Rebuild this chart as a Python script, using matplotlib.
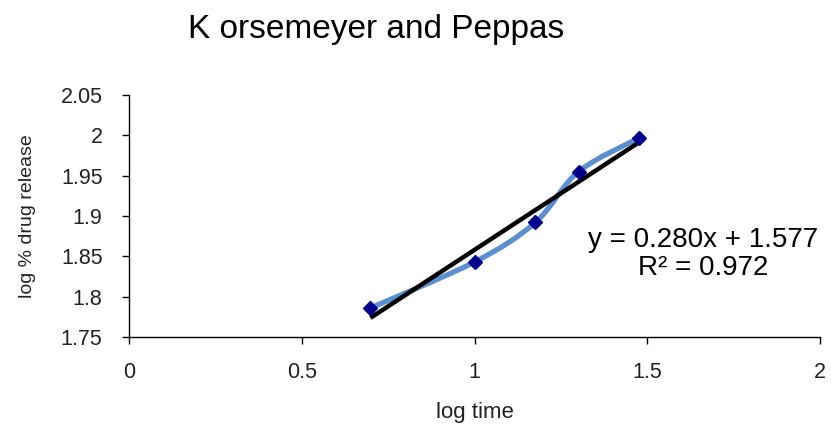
import numpy as np
import matplotlib
matplotlib.use("Agg")
import matplotlib.pyplot as plt
from matplotlib.path import Path
from matplotlib.patches import PathPatch

log_time = [0.699, 1.0, 1.176, 1.301, 1.477]
log_release = [1.786, 1.843, 1.892, 1.955, 1.997]
x_ticks = [0, 0.5, 1, 1.5, 2]
y_ticks = [1.75, 1.8, 1.85, 1.9, 1.95, 2.0, 2.05]
y_ticklabels = ["1.75", "1.8", "1.85", "1.9", "1.95", "2", "2.05"]
x_ticklabels = ["0", "0.5", "1", "1.5", "2"]

plt.rcParams['font.family'] = ['Liberation Sans', 'DejaVu Sans']

fig = plt.figure(figsize=(8.31, 4.26), dpi=100)
ax = fig.add_axes([0.1552, 0.2089, 0.8316, 0.5681])

# smoothed line (Bezier through points, Excel-style)
pts = np.column_stack([log_time, log_release])
n = len(pts)
verts = [tuple(pts[0])]
codes = [Path.MOVETO]
for i in range(n - 1):
    p0 = pts[i - 1] if i > 0 else pts[i]
    p1 = pts[i]
    p2 = pts[i + 1]
    p3 = pts[i + 2] if i + 2 < n else pts[i + 1]
    c1 = p1 + (p2 - p0) / 6.0
    c2 = p2 - (p3 - p1) / 6.0
    verts += [tuple(c1), tuple(c2), tuple(p2)]
    codes += [Path.CURVE4] * 3
ax.add_patch(PathPatch(Path(verts, codes), facecolor='none',
                       edgecolor='#5b8fd0', lw=3.8, zorder=2))

# trendline
slope, intercept = np.polyfit(log_time, log_release, 1)
tx = np.array([min(log_time), max(log_time)])
ax.plot(tx, slope * tx + intercept, color='black', lw=3.2,
        solid_capstyle='butt', zorder=3)

ax.plot(log_time, log_release, linestyle='none', marker='D', markersize=7.5,
        color='#00008b', zorder=4)

ax.set_xlim(0, 2)
ax.set_ylim(1.75, 2.05)
ax.set_xticks(x_ticks)
ax.set_xticklabels(x_ticklabels)
ax.set_yticks(y_ticks)
ax.set_yticklabels(y_ticklabels)
for s in ['top', 'right']:
    ax.spines[s].set_visible(False)
for s in ['left', 'bottom']:
    ax.spines[s].set_linewidth(1.0)
ax.tick_params(axis='both', direction='out', length=5, width=1,
               labelsize=15.5, colors='black', labelcolor='#222222')
ax.tick_params(axis='x', pad=13)
ax.tick_params(axis='y', pad=14)

ax.set_xlabel('log time', fontsize=16, color='#222222', labelpad=14)
ax.set_ylabel('log % drug release', fontsize=14, color='#222222', labelpad=18)

fig.text(0.4525, 0.93, 'K orsemeyer and Peppas', fontsize=24,
         ha='center', va='center')
fig.text(0.846, 0.437, 'y = 0.280x + 1.577', fontsize=20,
         ha='center', va='center')
fig.text(0.846, 0.371, 'R² = 0.972', fontsize=20,
         ha='center', va='center')

fig.savefig('out.png', dpi=100)
